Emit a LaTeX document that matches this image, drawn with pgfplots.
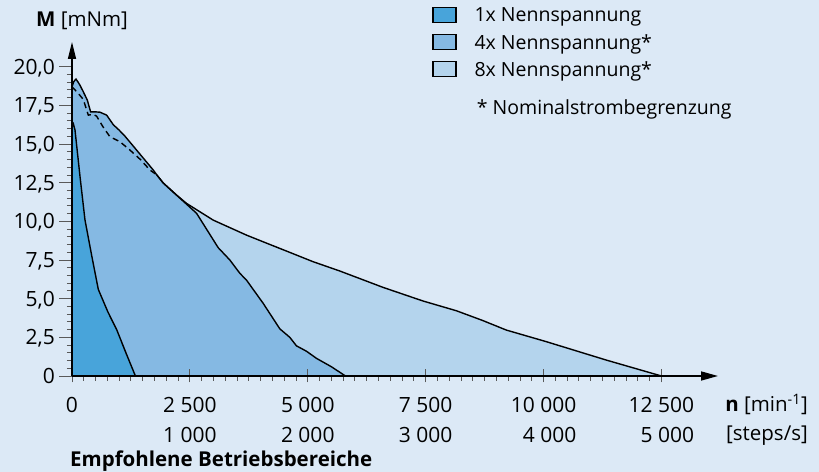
\documentclass[border=0pt]{standalone}
\usepackage{pgfplots}
\pgfplotsset{compat=1.18}
\usepackage{pgfplotstable}
\usetikzlibrary{arrows.meta}
\usepackage{fontspec}
\setmainfont{Open Sans}
\definecolor{bg}{RGB}{220,233,246}
\definecolor{cone}{RGB}{72,164,218}
\definecolor{cfour}{RGB}{133,185,227}
\definecolor{ceight}{RGB}{180,212,237}

\pgfplotstableread{
x y
0 18.7
135 18.27
240 17.88
346 16.87
450 16.92
523 16.8
660 16.1
805 15.47
1017 15.15
1229 14.61
1450 14.0
1653 13.32
1800 13.0
1935 12.48
2218 11.7
2430 11.16
2995 10.08
3701 9.11
4407 8.25
5114 7.39
5679 6.79
6597 5.73
7444 4.85
8151 4.22
8700 3.6
9211 2.97
10059 2.22
11330 1.03
12500 0
}\eight

\pgfplotstableread{
x y
0 18.7
40 19.05
85 19.2
130 19.0
170 18.8
240 18.38
325 17.84
395 17.08
500 17.08
593 17.06
735 16.87
876 16.25
1000 15.9
1123 15.51
1400 14.5
1723 13.32
1800 13.0
1935 12.48
2642 10.52
3100 8.3
3348 7.5
3560 6.64
3701 6.2
4054 4.7
4407 3.05
4619 2.5
4760 1.95
4973 1.6
5185 1.14
5500 0.6
5800 0
}\four

\pgfplotstableread{
x y
0 16.1
30 16.3
64 15.9
170 12.9
275 10.1
417 7.8
558 5.6
760 4.15
947 3.0
1150 1.45
1345 0
}\one

\begin{document}
\begin{tikzpicture}[x=1bp,y=1bp]
\fill[bg] (-72,-96) rectangle (747,376);
\begin{axis}[
  scale only axis, width=646bp, height=334bp,
  xmin=0, xmax=13700, ymin=0, ymax=21.6,
  scaled x ticks=false, scaled y ticks=false,
  axis lines=left, axis on top,
  axis line style={line width=1.6bp, black},
  x axis line style={-{Triangle[length=17bp,width=9bp]}},
  y axis line style={-{Triangle[length=17bp,width=8bp]}},
  xtick={0,2500,5000,7500,10000,12500},
  xticklabels={0,{2 500\\1 000},{5 000\\2 000},{7 500\\3 000},{10 000\\4 000},{12 500\\5 000}},
  ytick={0,2.5,5,7.5,10,12.5,15,17.5,20},
  yticklabels={0,{2,5},{5,0},{7,5},{10,0},{12,5},{15,0},{17,5},{20,0}},
  minor x tick num=9, minor y tick num=4,
  xtick align=center, ytick align=outside,
  major tick length=13bp, minor tick length=5bp,
  tick style={line width=0.9bp, color=black!65},
  minor x tick style={yshift=-2.5bp},
  xticklabel style={align=right, font=\fontsize{21bp}{30bp}\selectfont, inner sep=0pt, anchor=north, yshift=-14.2bp},
  yticklabel style={font=\fontsize{21bp}{25bp}\selectfont, inner sep=0pt, anchor=east, text depth=0pt, xshift=-4bp},
  legend style={at={(rel axis cs:0.5573,1.1063)}, anchor=north west, draw=none, fill=none, inner sep=0pt,
     row sep=10.7bp, font=\fontsize{19.5bp}{23bp}\selectfont,
     nodes={inner sep=0pt, text depth=0pt},
     /tikz/every odd column/.style={column sep=18bp}},
  legend cell align=left,
  reverse legend,
  legend image code/.code={\draw[#1, draw=black, line width=1.3bp] (0bp,-7.5bp) rectangle (23bp,7.5bp);},
]
\addplot[fill=ceight, draw=none] table {\eight} \closedcycle;
\addlegendentry{8x Nennspannung*}
\addplot[fill=cfour, draw=none] table {\four} \closedcycle;
\addlegendentry{4x Nennspannung*}
\addplot[fill=cone, draw=none] table {\one} \closedcycle;
\addlegendentry{1x Nennspannung}
\addplot[forget plot, black, line width=1.4bp, dash pattern=on 6bp off 4bp, restrict x to domain=0:1800] table {\eight};
\addplot[forget plot, black, line width=1.4bp, restrict x to domain=1800:13000] table {\eight};
\addplot[forget plot, black, line width=1.4bp] table {\four};
\addplot[forget plot, black, line width=1.4bp] table {\one};
\end{axis}
\node[anchor=base west, inner sep=0pt, font=\fontsize{20.5bp}{24bp}\selectfont] at (-36,349) {\textbf{M} [mNm]};
\node[anchor=base west, inner sep=0pt, font=\fontsize{19.5bp}{23bp}\selectfont] at (404.7,261) {* Nominalstrombegrenzung};
\node[anchor=base east, inner sep=0pt, font=\fontsize{20.5bp}{24bp}\selectfont] at (736,-35.7) {\textbf{n} [min\textsuperscript{-1}]};
\node[anchor=base east, inner sep=0pt, font=\fontsize{20.5bp}{24bp}\selectfont] at (736,-64.7) {[steps/s]};
\node[anchor=base west, inner sep=0pt, font=\fontsize{20.5bp}{24bp}\selectfont\bfseries] at (-2,-90.3) {Empfohlene Betriebsbereiche};
\pgfresetboundingbox
\path[use as bounding box] (-72,-96) rectangle (747,376);
\end{tikzpicture}
\end{document}
